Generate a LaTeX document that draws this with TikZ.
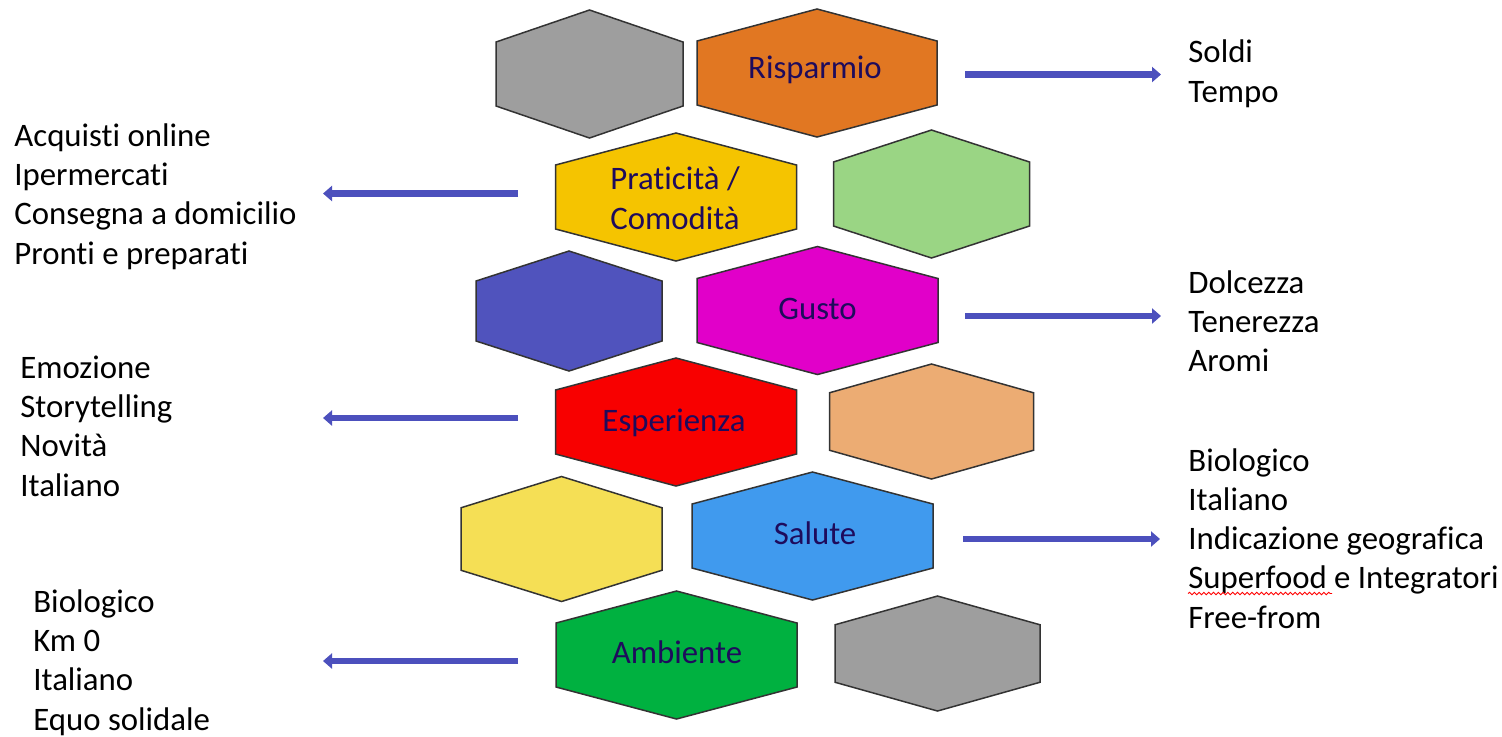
\documentclass[tikz,border=0pt]{standalone}
\usepackage{fontspec}
\setmainfont{Carlito}[Ligatures={NoCommon,NoContextual}]
\usetikzlibrary{arrows.meta,decorations.pathmorphing}
\definecolor{hexline}{HTML}{333333}
\definecolor{labelcol}{HTML}{1E0B5C}
\definecolor{arrowcol}{HTML}{4C50BD}
\definecolor{cgray}{HTML}{9E9E9E}
\definecolor{corange}{HTML}{E17722}
\definecolor{cyellow}{HTML}{F5C400}
\definecolor{clgreen}{HTML}{9AD584}
\definecolor{cdblue}{HTML}{5053BD}
\definecolor{cmagenta}{HTML}{E100C9}
\definecolor{cred}{HTML}{F80000}
\definecolor{ctan}{HTML}{ECAC73}
\definecolor{clyellow}{HTML}{F5DF55}
\definecolor{csky}{HTML}{409AEE}
\definecolor{cgreen}{HTML}{00B140}
\tikzset{
  hexshape/.style={draw=hexline, line width=0.75pt, line join=miter},
  hexlabel/.style={font=\fontsize{16.4}{20}\selectfont, text=labelcol, align=center, anchor=base, inner sep=0pt},
  listtext/.style={font=\fontsize{16.4}{19.65}\selectfont, text=black, align=left, anchor=base west, inner sep=0pt},
  bigarrow/.style={draw=arrowcol, line width=3.1pt, -{Triangle[length=4.5pt,width=7.5pt]}},
}
\newcommand{\hexa}[6]{%
  \filldraw[hexshape, fill=#6] (#2-#4,#3-#5/2) -- (#2,#3-#5) -- (#2+#4,#3-#5/2) -- (#2+#4,#3+#5/2) -- (#2,#3+#5) -- (#2-#4,#3+#5/2) -- cycle;
  \coordinate (#1) at (#2,#3);
}
\begin{document}
\begin{tikzpicture}[x=0.5pt,y=-0.5pt]
\fill[white] (0,0) rectangle (1502,736);
\useasboundingbox (0,0) rectangle (1502,736);
% hexagons
\hexa{g1}{589.5}{74}{93.5}{64}{cgray}
\hexa{risp}{817}{73}{120}{64}{corange}
\hexa{prat}{676}{197}{120.5}{64}{cyellow}
\hexa{lg}{931.5}{194}{98}{64}{clgreen}
\hexa{db}{569}{311}{93}{60}{cdblue}
\hexa{gusto}{817.5}{310.5}{120.5}{64}{cmagenta}
\hexa{esp}{676}{422}{120.5}{64}{cred}
\hexa{tan}{931.5}{421.5}{102}{57.5}{ctan}
\hexa{ly}{561.5}{539}{100.5}{62.5}{clyellow}
\hexa{sal}{812.5}{536}{120.5}{64}{csky}
\hexa{amb}{676.5}{655}{120.5}{64}{cgreen}
\hexa{g2}{937.5}{653.5}{102.5}{57.5}{cgray}
% labels (base anchor = baseline of last line)
\node[hexlabel] (lrisp) at (815,78.3) {Risparmio};
\node[hexlabel] (lprat) at (675,229) {Praticità /\\Comodità};
\node[hexlabel] (lgusto) at (817.5,319) {Gusto};
\node[hexlabel] (lesp) at (674,431.7) {Esperienza};
\node[hexlabel] (lsal) at (815,544) {Salute};
\node[hexlabel] (lamb) at (677,663) {Ambiente};
% lists
\node[listtext] (t1) at (1188,102) {Soldi\\Tempo};
\node[listtext] (t2) at (14,264) {Acquisti online\\Ipermercati\\Consegna a domicilio\\Pronti e preparati};
\node[listtext] (t3) at (1188,371.6) {Dolcezza\\Tenerezza\\Aromi};
\node[listtext] (t4) at (20,496) {Emozione\\Storytelling\\Novità\\Italiano};
\node[listtext] (t5) at (1188,628.2) {Biologico\\Italiano\\Indicazione geografica\\Superfood e Integratori\\Free-from};
\node[listtext] (t6) at (33,730) {Biologico\\Km 0\\Italiano\\Equo solidale};
% arrow end points
\coordinate (a1s) at (965,74.5);   \coordinate (a1e) at (1161,74.5);
\coordinate (a2s) at (518,193.5);  \coordinate (a2e) at (323,193.5);
\coordinate (a3s) at (965,316);    \coordinate (a3e) at (1161,316);
\coordinate (a4s) at (518,418);    \coordinate (a4e) at (323,418);
\coordinate (a5s) at (963,539);    \coordinate (a5e) at (1160,539);
\coordinate (a6s) at (518,661);    \coordinate (a6e) at (323,661);
\draw[bigarrow] (a1s) -- (a1e);
\draw[bigarrow] (a2s) -- (a2e);
\draw[bigarrow] (a3s) -- (a3e);
\draw[bigarrow] (a4s) -- (a4e);
\draw[bigarrow] (a5s) -- (a5e);
\draw[bigarrow] (a6s) -- (a6e);
% spell-check squiggle
\coordinate (sq1) at (1188,593.5); \coordinate (sq2) at (1332,593.5);
\draw[red, line width=0.45pt, decorate, decoration={snake, amplitude=0.6pt, segment length=2.4pt}] (sq1) -- (sq2);
\end{tikzpicture}
\end{document}
